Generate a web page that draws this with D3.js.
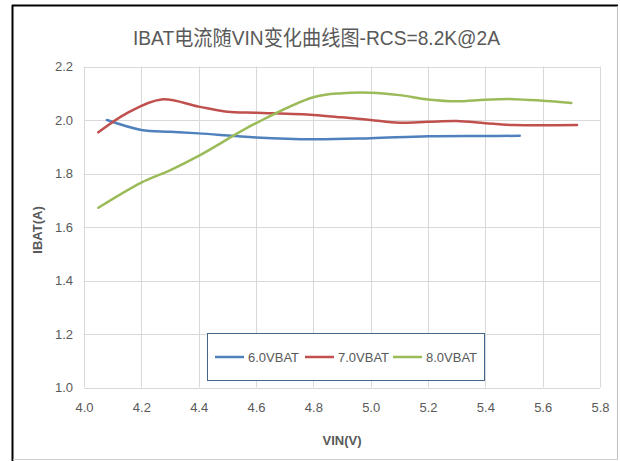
<!DOCTYPE html>
<html><head><meta charset="utf-8">
<script src="https://cdn.jsdelivr.net/npm/d3@7"></script>
<style>
html,body{margin:0;padding:0;background:#fff;}
svg{display:block;}
</style></head>
<body>
<svg id="chart" width="620" height="461"></svg>
<script>
// ---- data ----
const xTicks = [4.0, 4.2, 4.4, 4.6, 4.8, 5.0, 5.2, 5.4, 5.6, 5.8];
const yTicks = [1.0, 1.2, 1.4, 1.6, 1.8, 2.0, 2.2];
const seriesNames = ["6.0VBAT", "7.0VBAT", "8.0VBAT"];
const vin6 = [4.08, 4.2, 4.3, 4.4, 4.6, 4.8, 5.0, 5.2, 5.4, 5.52];
const ibat6 = [2.00, 1.963, 1.956, 1.95, 1.935, 1.928, 1.932, 1.939, 1.940, 1.941];
const vin7 = [4.05, 4.15, 4.27, 4.4, 4.5, 4.6, 4.8, 4.9, 5.0, 5.1, 5.2, 5.3, 5.4, 5.5, 5.72];
const ibat7 = [1.954, 2.026, 2.077, 2.05, 2.031, 2.027, 2.019, 2.01, 2.0, 1.99, 1.993, 1.996, 1.988, 1.981, 1.981];
const vin8 = [4.05, 4.2, 4.3, 4.4, 4.6, 4.8, 4.9, 5.0, 5.1, 5.2, 5.3, 5.4, 5.5, 5.6, 5.7];
const ibat8 = [1.672, 1.766, 1.812, 1.866, 1.988, 2.085, 2.10, 2.102, 2.093, 2.077, 2.07, 2.076, 2.078, 2.072, 2.064];
const titleText = "IBAT电流随VIN变化曲线图-RCS=8.2K@2A";
const xTitle = "VIN(V)";
const yTitle = "IBAT(A)";

const colors = ["#4F81BD", "#C0504D", "#9BBB59"];
const series = [
  {name: seriesNames[0], xs: vin6, ys: ibat6},
  {name: seriesNames[1], xs: vin7, ys: ibat7},
  {name: seriesNames[2], xs: vin8, ys: ibat8}
];

const FONT = "'Liberation Sans Narrow','Arial Narrow','Liberation Sans',sans-serif";
const svg = d3.select("#chart");

// frame
svg.append("line").attr("x1", 12).attr("y1", 5.5).attr("x2", 618).attr("y2", 5.5).attr("stroke", "#000").attr("stroke-width", 2);
svg.append("line").attr("x1", 12.5).attr("y1", 5).attr("x2", 12.5).attr("y2", 461).attr("stroke", "#000").attr("stroke-width", 2);
svg.append("line").attr("x1", 617.5).attr("y1", 6).attr("x2", 617.5).attr("y2", 459).attr("stroke", "#bfbfbf").attr("stroke-width", 1);
svg.append("line").attr("x1", 13).attr("y1", 459.5).attr("x2", 618).attr("y2", 459.5).attr("stroke", "#d0d0d0").attr("stroke-width", 1);

// scales
const x = d3.scaleLinear().domain([4.0, 5.8]).range([84, 600]);
const y = d3.scaleLinear().domain([1.0, 2.2]).range([387.5, 66.5]);

// gridlines
const grid = svg.append("g");
grid.selectAll("line.v").data(xTicks).join("line")
  .attr("x1", d => Math.round(x(d)) + 0.5).attr("x2", d => Math.round(x(d)) + 0.5)
  .attr("y1", y(2.2)).attr("y2", y(1.0))
  .attr("stroke", "#d9d9d9").attr("stroke-width", 1);
grid.selectAll("line.h").data(yTicks).join("line")
  .attr("y1", d => Math.round(y(d)) + 0.5).attr("y2", d => Math.round(y(d)) + 0.5)
  .attr("x1", x(4.0)).attr("x2", x(5.8))
  .attr("stroke", "#d9d9d9").attr("stroke-width", 1);

// axes (labels only)
const xAxis = svg.append("g").attr("transform", `translate(0,${y(1.0)})`)
  .call(d3.axisBottom(x).tickValues(xTicks).tickFormat(d3.format(".1f")).tickSize(0).tickPadding(15));
const yAxis = svg.append("g").attr("transform", `translate(${x(4.0)},0)`)
  .call(d3.axisLeft(y).tickValues(yTicks).tickFormat(d3.format(".1f")).tickSize(0).tickPadding(11));
[xAxis, yAxis].forEach(a => {
  a.select(".domain").remove();
  a.selectAll("text").attr("fill", "#595959").style("font-family", FONT).style("font-size", "13px");
});

// lines
const line = d3.line().curve(d3.curveCatmullRom.alpha(0.5));
svg.append("g").selectAll("path").data(series).join("path")
  .attr("d", s => line(s.xs.map((v, i) => [x(v), y(s.ys[i])])))
  .attr("fill", "none")
  .attr("stroke", (s, i) => colors[i])
  .attr("stroke-width", 2.5)
  .attr("stroke-linecap", "round");

// title
svg.append("text").attr("x", 133).attr("y", 45)
  .attr("textLength", 367).attr("lengthAdjust", "spacingAndGlyphs")
  .attr("fill", "#595959").style("font-family", FONT + ",'Noto Sans CJK SC'").style("font-size", "21px")
  .text(titleText);

// axis titles
svg.append("text").attr("x", 342).attr("y", 445).attr("text-anchor", "middle")
  .attr("fill", "#595959").style("font-family", FONT).style("font-size", "13px").style("font-weight", "bold")
  .text(xTitle);
svg.append("text").attr("transform", "translate(42,230) rotate(-90)").attr("text-anchor", "middle")
  .attr("fill", "#595959").style("font-family", FONT).style("font-size", "13px").style("font-weight", "bold")
  .text(yTitle);

// legend
const lg = svg.append("g");
lg.append("rect").attr("x", 207.5).attr("y", 333.5).attr("width", 277).attr("height", 47)
  .attr("fill", "#fff").attr("stroke", "#44658a").attr("stroke-width", 1);
const legX = [215, 305, 393];
const items = lg.selectAll("g.item").data(series).join("g").attr("transform", (d, i) => `translate(${legX[i]},357)`);
items.append("line").attr("x1", 0).attr("x2", 29).attr("y1", 0).attr("y2", 0)
  .attr("stroke", (d, i) => colors[i]).attr("stroke-width", 2.5);
items.append("text").attr("x", 33).attr("y", 5)
  .attr("fill", "#595959").style("font-family", FONT).style("font-size", "13px")
  .text(d => d.name);
</script>
</body></html>
